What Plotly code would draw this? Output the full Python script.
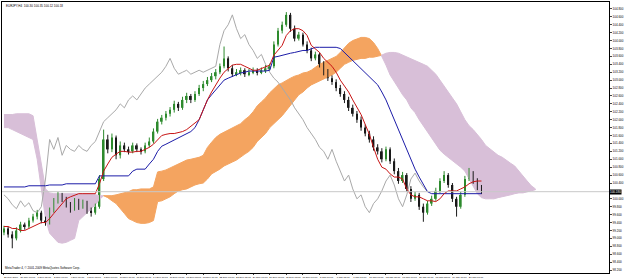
import plotly.graph_objects as go

# ---------------- data (prices) ----------------
opens = [99.15,99.25,99.10,99.00,99.20,99.35,99.30,99.45,99.55,99.65,
 99.45,99.40,99.70,99.95,100.10,100.00,99.85,99.75,99.95,99.80,
 99.90,99.70,99.65,99.80,100.50,101.50,101.25,101.55,101.10,101.35,
 101.25,101.20,101.35,101.25,101.20,101.35,101.45,101.70,101.95,102.05,
 102.15,102.25,102.40,102.30,102.50,102.60,102.50,102.65,102.80,102.90,
 103.00,103.10,103.20,103.35,103.55,103.30,103.15,103.20,103.25,103.15,
 103.20,103.25,103.20,103.25,103.30,103.35,103.90,104.25,104.40,104.65,
 104.30,104.05,104.15,103.90,103.75,103.55,103.65,103.40,103.20,103.05,
 102.95,102.80,102.65,102.50,102.30,102.15,102.00,101.80,101.65,101.50,
 101.30,101.20,101.00,101.25,100.95,100.70,100.45,100.60,100.25,100.00,
 100.10,99.80,99.65,99.88,100.00,100.20,100.45,100.60,100.35,100.00,
 99.80,100.10,100.50,100.65,100.45,100.30]
highs = [99.32,99.30,99.18,99.28,99.42,99.40,99.52,99.62,99.72,99.70,
 99.55,99.78,100.02,100.18,100.15,100.05,99.92,100.02,100.00,99.98,
 99.95,99.78,99.88,100.60,101.75,101.62,101.65,101.60,101.45,101.42,
 101.32,101.42,101.40,101.30,101.42,101.55,101.78,102.02,102.12,102.22,
 102.32,102.48,102.45,102.58,102.68,102.65,102.72,102.88,102.98,103.08,
 103.18,103.28,103.42,103.85,103.60,103.38,103.28,103.32,103.30,103.28,
 103.32,103.30,103.32,103.38,103.42,103.98,104.32,104.48,104.72,104.70,
 104.38,104.22,104.20,103.98,103.82,103.72,103.70,103.48,103.28,103.12,
 103.02,102.88,102.72,102.58,102.38,102.22,102.08,101.88,101.72,101.58,
 101.38,101.28,101.32,101.30,101.02,100.78,100.68,100.65,100.32,100.18,
 100.15,99.88,99.95,100.08,100.28,100.52,100.70,100.65,100.40,100.05,
 100.18,100.58,100.78,100.70,100.52,100.35]
lows = [99.08,99.02,98.75,98.95,99.15,99.22,99.25,99.40,99.48,99.38,
 99.32,99.35,99.65,99.88,99.92,99.78,99.65,99.70,99.72,99.75,
 99.62,99.55,99.60,99.75,100.45,101.15,101.18,101.00,101.02,101.18,
 101.12,101.15,101.18,101.12,101.15,101.30,101.40,101.65,101.88,101.98,
 102.08,102.18,102.22,102.25,102.42,102.42,102.45,102.60,102.72,102.85,
 102.95,103.02,103.15,103.30,103.22,103.08,103.10,103.12,103.08,103.10,
 103.15,103.12,103.15,103.18,103.25,103.30,103.85,104.18,104.35,104.22,
 103.98,104.00,103.85,103.68,103.48,103.50,103.32,103.12,102.98,102.88,
 102.72,102.58,102.42,102.22,102.08,101.92,101.72,101.58,101.42,101.22,
 101.12,100.92,100.95,100.88,100.62,100.38,100.40,100.18,99.92,99.95,
 99.72,99.42,99.60,99.82,99.95,100.15,100.40,100.28,99.92,99.55,
 99.75,100.05,100.45,100.38,100.22,100.12]
closes = [99.25,99.10,99.00,99.20,99.35,99.30,99.45,99.55,99.65,99.45,
 99.40,99.70,99.95,100.10,100.00,99.85,99.75,99.95,99.80,99.90,
 99.70,99.65,99.80,100.50,101.50,101.25,101.55,101.10,101.35,101.25,
 101.20,101.35,101.25,101.20,101.35,101.45,101.70,101.95,102.05,102.15,
 102.25,102.40,102.30,102.50,102.60,102.50,102.65,102.80,102.90,103.00,
 103.10,103.20,103.35,103.55,103.30,103.15,103.20,103.25,103.15,103.20,
 103.25,103.20,103.25,103.30,103.35,103.90,104.25,104.40,104.65,104.30,
 104.05,104.15,103.90,103.75,103.55,103.65,103.40,103.20,103.05,102.95,
 102.80,102.65,102.50,102.30,102.15,102.00,101.80,101.65,101.50,101.30,
 101.20,101.00,101.25,100.95,100.70,100.45,100.60,100.25,100.00,100.10,
 99.80,99.65,99.88,100.00,100.20,100.45,100.60,100.35,100.00,99.80,
 100.10,100.50,100.65,100.45,100.30,100.18]

tenkan = [99.30,99.30,99.25,99.25,99.20,99.20,99.25,99.30,99.35,99.40,99.40,
 99.50,99.63,99.75,99.88,100.00,100.05,100.10,100.13,100.13,100.13,100.13,100.13,
 100.38,100.70,100.88,101.05,101.13,
 101.20,101.20,101.18,101.18,101.20,101.20,101.25,101.30,
 101.38,101.50,101.60,
 101.63,101.65,101.65,101.68,101.70,101.75,
 101.83,101.90,102.00,
 102.25,102.50,102.70,102.88,103.05,
 103.20,103.30,103.38,103.40,103.40,103.35,103.30,
 103.25,103.25,103.30,103.35,103.38,
 103.63,103.75,103.88,
 104.13,104.25,104.30,104.30,104.25,
 104.13,
 103.88,103.80,103.70,
 103.55,103.45,103.35,103.20,
 103.00,102.85,102.70,102.50,102.30,
 102.13,101.88,101.63,101.30,101.00,
 100.80,100.75,100.63,100.55,100.55,
 100.50,100.25,100.10,100.05,
 100.05,100.00,99.95,99.95,99.93,
 100.00,100.13,100.20,100.20,100.20,
 100.25,100.30,100.38,100.43,100.45,100.45]

kijun = [100.30,100.30,100.30,100.30,100.30,100.30,
 100.33,100.33,100.33,100.33,100.33,
 100.35,100.35,100.35,100.35,
 100.38,100.38,100.38,100.38,100.38,100.38,100.38,100.38,
 100.58,100.58,100.58,100.58,100.58,100.58,100.58,100.58,
 100.70,100.75,100.75,100.75,100.88,101.00,101.20,101.33,
 101.38,101.43,101.48,101.53,101.58,101.63,
 101.70,101.80,102.00,102.25,102.50,102.63,102.75,102.88,
 103.00,103.05,103.10,103.13,103.18,
 103.20,103.23,103.23,103.23,103.23,103.23,103.25,
 103.58,103.60,103.63,103.65,103.68,103.70,103.73,103.75,103.75,
 103.80,103.83,103.83,103.83,103.83,103.83,103.83,103.80,
 103.70,103.60,103.50,
 103.40,103.30,103.20,103.10,103.00,
 102.88,102.70,102.50,102.25,102.00,
 101.75,101.50,101.25,101.00,100.75,
 100.55,100.35,100.18,
 100.13,100.13,100.13,100.13,100.13,100.13,100.13,100.13,100.13,100.13,100.13,100.13,100.13]

span_a = [101.80,101.80,101.75,101.70,101.65,101.60,101.55,101.50,101.00,100.25,
 99.50,99.13,99.00,98.90,98.88,98.90,98.95,99.00,99.45,99.55,
 99.65,99.75,99.85,99.98,100.08,100.08,100.08,100.10,100.13,100.15,
 100.18,100.23,100.23,100.25,100.25,100.25,100.30,100.68,100.70,100.73,
 100.78,100.83,100.88,100.93,100.98,101.00,101.03,101.05,101.10,101.30,
 101.43,101.55,101.63,101.68,101.73,101.80,101.85,101.90,102.00,102.08,
 102.20,102.35,102.45,102.55,102.68,102.78,102.88,102.93,103.00,103.05,
 103.10,103.13,103.18,103.20,103.25,103.33,103.40,103.45,103.50,103.55,
 103.60,103.70,103.83,103.93,104.00,104.05,104.08,104.08,104.05,103.95,
 103.80,103.60,103.38,103.13,102.95,102.80,102.63,102.50,102.30,102.18,
 102.00,101.85,101.70,101.55,101.38,101.23,101.13,101.05,100.95,100.88,
 100.80,100.70,100.50,100.30,100.13,100.03,100.00,100.00,100.00,100.03,
 100.05,100.08,100.10,100.13,100.15,100.15,100.18,100.20,100.23]
span_b = [102.13,102.13,102.13,102.15,102.15,102.15,102.15,102.10,101.50,100.88,
 100.25,100.15,100.13,100.13,100.13,100.13,100.13,100.13,100.13,100.13,
 100.13,100.13,100.10,100.08,100.08,100.03,99.95,99.88,99.75,99.63,
 99.50,99.45,99.40,99.38,99.38,99.40,99.45,99.93,99.95,100.00,
 100.05,100.13,100.20,100.23,100.25,100.30,100.35,100.38,100.40,100.50,
 100.63,100.70,100.75,100.83,100.88,100.93,100.98,101.05,101.13,101.20,
 101.30,101.45,101.55,101.65,101.80,101.90,102.00,102.10,102.23,102.35,
 102.50,102.63,102.70,102.80,102.88,102.93,102.98,103.03,103.08,103.13,
 103.20,103.30,103.40,103.45,103.50,103.53,103.55,103.55,103.58,103.58,
 103.60,103.63,103.68,103.70,103.70,103.68,103.65,103.60,103.55,103.50,
 103.45,103.40,103.35,103.25,103.15,103.00,102.85,102.70,102.55,102.40,
 102.20,102.00,101.85,101.75,101.63,101.50,101.35,101.25,101.18,101.10,
 101.05,100.98,100.90,100.83,100.70,100.58,100.45,100.33,100.25]

x_labels = ["27 Nov 2009", "30 Nov 00:00", "1 Dec 08:00", "2 Dec 16:00", "4 Dec 00:00",
            "7 Dec 08:00", "8 Dec 16:00", "10 Dec 00:00", "11 Dec 08:00", "14 Dec 16:00",
            "16 Dec 00:00", "17 Dec 08:00", "18 Dec 16:00", "22 Dec 00:00", "23 Dec 08:00",
            "24 Dec 16:00", "29 Dec 00:00", "30 Dec 08:00", "31 Dec 16:00", "5 Jan 00:00",
            "6 Jan 08:00", "7 Jan 16:00", "11 Jan 00:00", "12 Jan 08:00", "13 Jan 16:00",
            "15 Jan 00:00", "18 Jan 08:00", "19 Jan 16:00", "21 Jan 00:00"]
label_step = 4
chikou_shift = 13
symbol_text = "EURJPY,H4  100.30 100.35 100.12 100.18"
copyright_text = "MetaTrader 4, \u00a9 2001-2009 MetaQuotes Software Corp."

# ---------------- figure ----------------
n = len(closes)
xs = list(range(n))
xc = list(range(len(span_a)))

fig = go.Figure()

def cloud_runs(x, a, b):
    runs = []
    cur = {"x": [x[0]], "a": [a[0]], "b": [b[0]], "up": a[0] >= b[0]}
    for i in range(1, len(x)):
        up = a[i] >= b[i]
        if up != cur["up"]:
            d0 = a[i-1] - b[i-1]
            d1 = a[i] - b[i]
            t = d0 / (d0 - d1)
            xm = x[i-1] + t * (x[i] - x[i-1])
            ym = a[i-1] + t * (a[i] - a[i-1])
            cur["x"].append(xm); cur["a"].append(ym); cur["b"].append(ym)
            runs.append(cur)
            cur = {"x": [xm], "a": [ym], "b": [ym], "up": up}
        cur["x"].append(x[i]); cur["a"].append(a[i]); cur["b"].append(b[i])
    runs.append(cur)
    return runs

for r in cloud_runs(xc, span_a, span_b):
    col = "#F4A460" if r["up"] else "#D8BFD8"
    fig.add_trace(go.Scatter(
        x=r["x"] + r["x"][::-1], y=r["a"] + r["b"][::-1],
        fill="toself", fillcolor=col, mode="lines",
        line=dict(color=col, width=1), hoverinfo="skip", showlegend=False))

fig.add_hline(y=closes[-1], line=dict(color="#C8C8C8", width=1))

# chikou span
fig.add_trace(go.Scatter(
    x=[i - chikou_shift for i in range(chikou_shift, n)],
    y=closes[chikou_shift:], mode="lines",
    line=dict(color="#A9A9A9", width=1), showlegend=False, hoverinfo="skip"))

# candles: wicks + thin bodies
UP_COL = "#2E8B2E"
DN_COL = "#1A1A1A"
for up, col in ((True, UP_COL), (False, DN_COL)):
    idx = [i for i in xs if (closes[i] >= opens[i]) == up]
    wx, wy = [], []
    for i in idx:
        wx += [i, i, None]
        wy += [lows[i], highs[i], None]
    fig.add_trace(go.Scatter(x=wx, y=wy, mode="lines", line=dict(color=col, width=1),
                             showlegend=False, hoverinfo="skip"))
    fig.add_trace(go.Bar(
        x=idx,
        y=[max(abs(closes[i] - opens[i]), 0.02) for i in idx],
        base=[min(opens[i], closes[i]) for i in idx],
        width=0.42, marker=dict(color=col, line=dict(width=0)),
        showlegend=False, hoverinfo="skip"))

fig.add_trace(go.Scatter(x=xs, y=kijun, mode="lines",
                         line=dict(color="#1C1CA8", width=1), showlegend=False, hoverinfo="skip"))
fig.add_trace(go.Scatter(x=xs, y=tenkan, mode="lines",
                         line=dict(color="#C81414", width=1), showlegend=False, hoverinfo="skip"))

# y ticks every 0.2, leaving room for the current-price tag
ytick_vals = [round(98.2 + 0.2 * k, 1) for k in range(34)]
ytick_vals = [v for v in ytick_vals if abs(v - closes[-1]) > 0.12]

fig.update_layout(
    width=625, height=280,
    margin=dict(l=1, r=10, t=1, b=5),
    paper_bgcolor="white", plot_bgcolor="white",
    barmode="overlay",
    font=dict(family="Liberation Sans, Arial, sans-serif", size=3, color="black"),
    xaxis=dict(range=[-0.476, 145.71], showgrid=False, zeroline=False,
               tickvals=[k * label_step for k in range(len(x_labels))],
               ticktext=x_labels, tickfont=dict(size=2.5), tickangle=0,
               ticks="outside", ticklen=1, ticklabelshift=7,
               showline=True, linecolor="black", linewidth=1, mirror=True),
    yaxis=dict(range=[98.125, 104.975], side="right", showgrid=False, zeroline=False,
               tickvals=ytick_vals, tickformat=".3f", tickfont=dict(size=3),
               ticks="outside", ticklen=2,
               showline=True, linecolor="black", linewidth=1, mirror=True),
    showlegend=False,
)

fig.add_annotation(x=0.003, y=0.999, xref="paper", yref="paper", text=symbol_text,
                   showarrow=False, xanchor="left", yanchor="top", font=dict(size=3))
fig.add_annotation(x=0.002, y=0.004, xref="paper", yref="paper", text=copyright_text,
                   showarrow=False, xanchor="left", yanchor="bottom", font=dict(size=3))
fig.add_annotation(x=1.0, y=closes[-1], xref="paper", yref="y", text=f"{closes[-1]:.3f}",
                   showarrow=False, xanchor="left", yanchor="middle",
                   bgcolor="black", font=dict(size=3, color="white"), borderpad=0)

fig.write_html("out.html")
